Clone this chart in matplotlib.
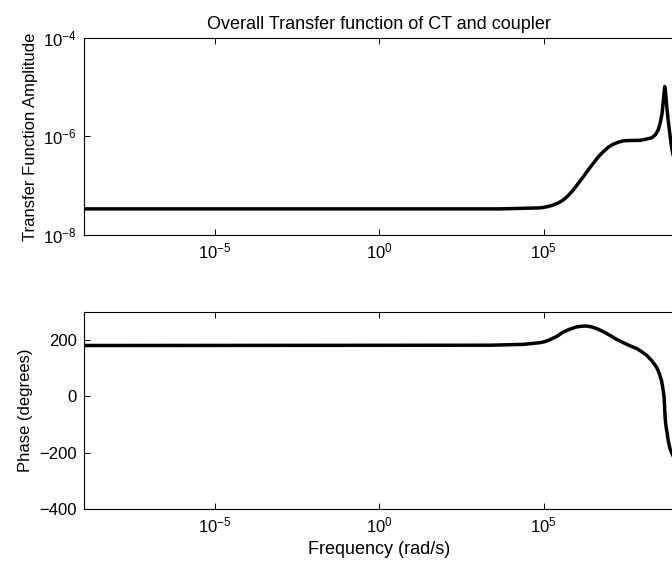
import numpy as np
import matplotlib
matplotlib.use('Agg')
import matplotlib.pyplot as plt
from matplotlib.ticker import NullLocator, FixedLocator

plt.rcParams['font.family'] = ['Liberation Sans', 'DejaVu Sans']
plt.rcParams['font.size'] = 12
plt.rcParams['mathtext.default'] = 'regular'

# log10 of frequency (rad/s) and log10 of amplitude
mag_w_exp = [-9.0, 3.67, 4.89, 5.0, 5.15, 5.30, 5.45, 5.60, 5.75, 5.90, 6.05, 6.21, 6.36,
             6.51, 6.66, 6.82, 6.97, 7.12, 7.27, 7.43, 7.6, 7.94, 8.1, 8.29, 8.4,
             8.49, 8.55, 8.61, 8.65, 8.69, 8.72, 8.75, 8.79, 8.83, 8.90, 9.0, 9.2]
mag_exp = [-7.47, -7.47, -7.45, -7.44, -7.42, -7.39, -7.35, -7.29, -7.20, -7.09, -6.96, -6.82, -6.68,
           -6.55, -6.42, -6.31, -6.22, -6.16, -6.12, -6.09, -6.085, -6.08, -6.06, -6.03, -5.97,
           -5.87, -5.73, -5.53, -5.25, -4.99, -5.15, -5.40, -5.65, -5.87, -6.24, -6.55, -6.9]

# phase in degrees
ph_w_exp = [-9.0, 3.37, 4.38, 4.89, 5.05, 5.20, 5.4, 5.60, 5.8, 6.01, 6.16, 6.31, 6.46, 6.62,
            6.82, 7.02, 7.22, 7.43, 7.63, 7.84, 7.99, 8.14, 8.29, 8.44, 8.52, 8.59,
            8.63, 8.67, 8.685, 8.70, 8.72, 8.75, 8.80, 8.85, 8.91, 9.0, 9.2]
phase = [180, 181, 184, 190, 194, 201, 212, 228, 238, 246, 248.5, 249, 246, 240,
         229, 216, 202, 190, 179, 169, 158, 145, 127, 103, 82, 56,
         30, -4, -40, -75, -100, -122, -160, -186, -204, -225, -250]

w_mag = 10.0 ** np.array(mag_w_exp)
amp = 10.0 ** np.array(mag_exp)
w_ph = 10.0 ** np.array(ph_w_exp)

fig = plt.figure(figsize=(6.72, 5.67), dpi=100)
ax1 = fig.add_axes((0.1244, 0.5855, 0.880, 0.348))
ax2 = fig.add_axes((0.1244, 0.1023, 0.880, 0.348))

ax1.loglog(w_mag, amp, '-', color='k', lw=2.5, solid_joinstyle='round')
ax2.semilogx(w_ph, phase, '-', color='k', lw=2.5, solid_joinstyle='round')

for ax in (ax1, ax2):
	ax.set_xlim(1e-9, 1e9)
	ax.xaxis.set_major_locator(FixedLocator([1e-5, 1e0, 1e5]))
	ax.xaxis.set_minor_locator(NullLocator())
	ax.tick_params(which='both', direction='in', length=4.5, width=0.7,
	               top=True, right=False, labelsize=12, pad=5)
	for s in ax.spines.values():
		s.set_linewidth(0.8)

ax1.set_ylim(1e-8, 1e-4)
ax1.yaxis.set_major_locator(FixedLocator([1e-8, 1e-6, 1e-4]))
ax1.yaxis.set_minor_locator(NullLocator())
ax1.set_ylabel('Transfer Function Amplitude')
ax1.set_title('Overall Transfer function of CT and coupler', fontsize=13, pad=6)

ax2.set_ylim(-400, 300)
ax2.set_yticks([-400, -200, 0, 200])
ax2.set_yticklabels(['\u2212400', '\u2212200', '0', '200'])
ax2.set_ylabel('Phase (degrees)')
ax2.set_xlabel('Frequency (rad/s)', fontsize=13)

fig.savefig('out.png', dpi=100)
